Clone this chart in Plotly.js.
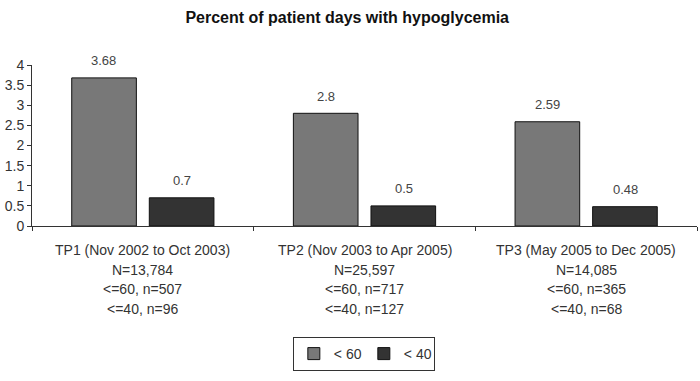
<!DOCTYPE html>
<html><head><meta charset="utf-8">
<script src="https://cdn.plot.ly/plotly-3.0.1.min.js"></script>
<style>html,body{margin:0;padding:0;background:#fff}</style>
</head><body><div id="chart" style="width:700px;height:381px"></div>
<script>
const categories = ["TP1", "TP2", "TP3"];
const periodLabels = ["TP1 (Nov 2002 to Oct 2003)", "TP2 (Nov 2003 to Apr 2005)", "TP3 (May 2005 to Dec 2005)"];
const totalLabels = ["N=13,784", "N=25,597", "N=14,085"];
const le60Labels = ["<=60, n=507", "<=60, n=717", "<=60, n=365"];
const le40Labels = ["<=40, n=96", "<=40, n=127", "<=40, n=68"];
const seriesNames = ["< 60", "< 40"];
const below60 = [3.68, 2.8, 2.59];
const below40 = [0.7, 0.5, 0.48];

const font = "Liberation Sans, Arial, sans-serif";
const W = 700, H = 381, mL = 32, mR = 3, mT = 65, mB = 155;
const plotH = H - mT - mB;
const py = p => (H - mB - p) / plotH;

const mk = (name, y, color, og) => ({
  type: "bar", name: name, x: categories, y: y, offsetgroup: og,
  marker: {color: color, line: {color: "#111", width: 1}}
});
const data = [mk(seriesNames[0], below60, "#787878", "a"), mk(seriesNames[1], below40, "#333333", "b")];

const annotations = [];
[below60, below40].forEach((vals, si) => {
  vals.forEach((v, ci) => annotations.push({
    x: categories[ci], y: v, xref: "x", yref: "y", text: String(v), showarrow: false,
    xshift: si === 0 ? -39 : 39, yshift: 17, yanchor: "middle",
    font: {family: font, size: 13, color: "#444"}
  }));
});
[periodLabels, totalLabels, le60Labels, le40Labels].forEach((rows, ri) => {
  rows.forEach((t, ci) => annotations.push({
    x: categories[ci], xref: "x", y: py(250 + ri * 19.6), yref: "paper", text: t, showarrow: false,
    yanchor: "middle", font: {family: font, size: 14, color: "#333"}
  }));
});

const layout = {
  width: W, height: H,
  margin: {l: mL, r: mR, t: mT, b: mB},
  paper_bgcolor: "#fff", plot_bgcolor: "#fff",
  font: {family: font, size: 13, color: "#333"},
  title: {text: "<b>Percent of patient days with hypoglycemia</b>", x: 0.496, xanchor: "center", y: 1 - 17 / H, yanchor: "middle",
          font: {family: font, size: 16, color: "#111"}},
  barmode: "group", bargap: 0.30, bargroupgap: 0.167,
  xaxis: {type: "category", tickvals: categories, showticklabels: false, tickson: "boundaries",
          ticks: "outside", ticklen: 4, tickcolor: "#333", showline: true, linecolor: "#333", linewidth: 1,
          showgrid: false, zeroline: false, automargin: false},
  yaxis: {range: [0, 4], dtick: 0.5, ticks: "outside", ticklen: 4, tickcolor: "#333", showline: true,
          linecolor: "#333", linewidth: 1, showgrid: false, zeroline: false,
          tickfont: {family: font, size: 14, color: "#333"}, automargin: false},
  annotations: annotations,
  showlegend: true,
  legend: {orientation: "h", x: 0.499, xanchor: "center", y: py(354), yanchor: "middle",
           bordercolor: "#333", borderwidth: 1, font: {family: font, size: 14, color: "#333"},
           itemwidth: 30, entrywidth: 25, entrywidthmode: "pixels", tracegroupgap: 0}
};
Plotly.newPlot("chart", data, layout, {displayModeBar: false, staticPlot: true});
</script></body></html>
